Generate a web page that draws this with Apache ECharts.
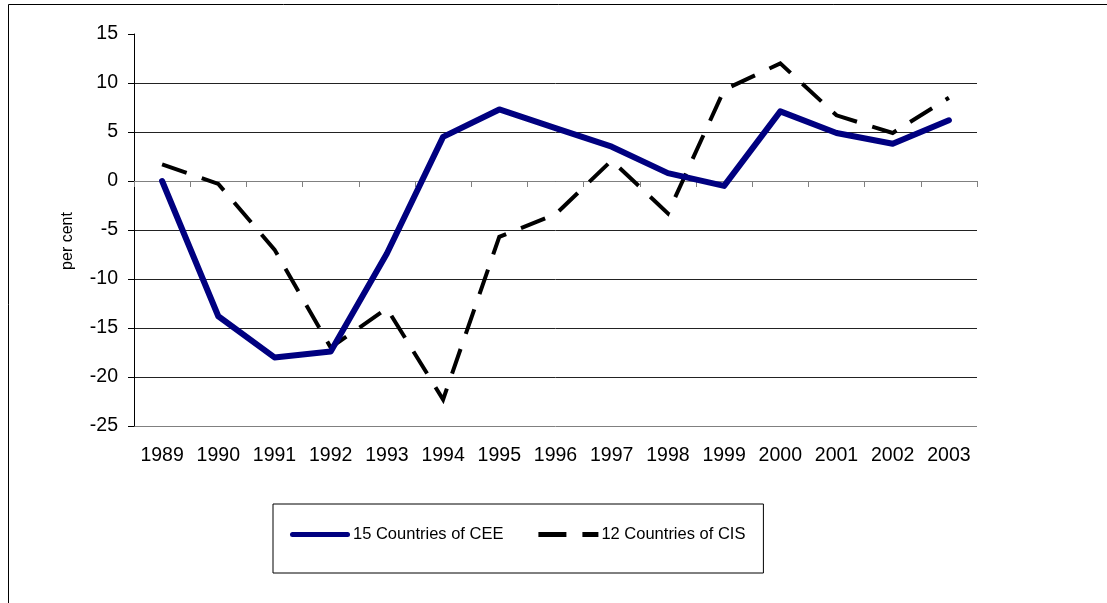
<!DOCTYPE html>
<html>
<head>
<meta charset="utf-8">
<script src="https://cdn.jsdelivr.net/npm/echarts@6/dist/echarts.min.js"></script>
<style>
html,body{margin:0;padding:0;background:#fff;}
#chart{width:1107px;height:603px;}
</style>
</head>
<body>
<div id="chart"></div>
<script>
const years = ['1989','1990','1991','1992','1993','1994','1995','1996','1997','1998','1999','2000','2001','2002','2003'];
const ceeValues = [0.0, -13.8, -18.0, -17.4, -7.4, 4.5, 7.3, 5.4, 3.5, 0.8, -0.5, 7.1, 4.9, 3.8, 6.2];
const cisValues = [1.7, -0.3, -7.0, -17.0, -13.0, -22.3, -5.7, -3.4, 2.1, -3.3, 9.3, 12.0, 6.7, 4.9, 8.5];
const seriesNames = ['15 Countries of CEE', '12 Countries of CIS'];
const yAxisTitle = 'per cent';

const FONT = 'Liberation Sans, Arial, sans-serif';
const chart = echarts.init(document.getElementById('chart'), null, {renderer: 'canvas'});
chart.setOption({
  animation: false,
  backgroundColor: '#fff',
  grid: {left: 134, top: 34, right: 130, bottom: 177, containLabel: false},
  xAxis: {
    type: 'category',
    data: years,
    boundaryGap: true,
    axisLine: {lineStyle: {color: '#808080', width: 1}},
    axisTick: {show: true, alignWithLabel: false, length: 6, lineStyle: {color: '#808080'}},
    axisLabel: {color: '#000', fontFamily: FONT, fontSize: 19.5, margin: 20, interval: 0},
    splitLine: {show: false}
  },
  yAxis: {
    type: 'value',
    min: -25, max: 15, interval: 5,
    axisLine: {show: true, lineStyle: {color: '#000', width: 1}},
    axisTick: {show: true, length: 6, lineStyle: {color: '#000'}},
    axisLabel: {color: '#000', fontFamily: FONT, fontSize: 19.5, margin: 16},
    splitLine: {show: true, lineStyle: {color: ['#808080','#222','#222','#222','#222','#222','#222','#222','rgba(0,0,0,0)'], width: 1}}
  },
  legend: {
    left: 273, top: 504,
    padding: [22, 18, 30, 17],
    borderColor: '#000', borderWidth: 1,
    itemWidth: 60, itemHeight: 5, itemGap: 35,
    textStyle: {color: '#000', fontFamily: FONT, fontSize: 16.5, padding: [0,0,0,-2]},
    data: [
      {name: seriesNames[0], icon: 'path://M2.5,0H57.5A2.5,2.5,0,0,1,57.5,5H2.5A2.5,2.5,0,0,1,2.5,0Z', itemStyle: {color: '#000080'}},
      {name: seriesNames[1], icon: 'path://M0,0H28V5H0Z M44,0H60V5H44Z', itemStyle: {color: '#000'}}
    ]
  },
  graphic: [
    {type: 'rect', shape: {x: 8.5, y: 4.5, width: 1200, height: 700}, style: {fill: 'none', stroke: '#000', lineWidth: 1}, silent: true, z: -1},
    {type: 'text', x: 68, y: 241, rotation: Math.PI/2, style: {text: yAxisTitle, fontFamily: FONT, fontSize: 16, fill: '#000', align: 'center', verticalAlign: 'middle'}}
  ],
  series: [
    {
      name: seriesNames[0], type: 'line', data: ceeValues,
      symbol: 'none', showSymbol: false,
      lineStyle: {color: '#000080', width: 6, cap: 'round', join: 'round'},
      itemStyle: {color: '#000080'},
      z: 3
    },
    {
      name: seriesNames[1], type: 'line', data: cisValues,
      symbol: 'none', showSymbol: false,
      lineStyle: {color: '#000', width: 4, type: [26, 16], join: 'miter'},
      itemStyle: {color: '#000'},
      z: 2
    }
  ]
});
</script>
</body>
</html>
